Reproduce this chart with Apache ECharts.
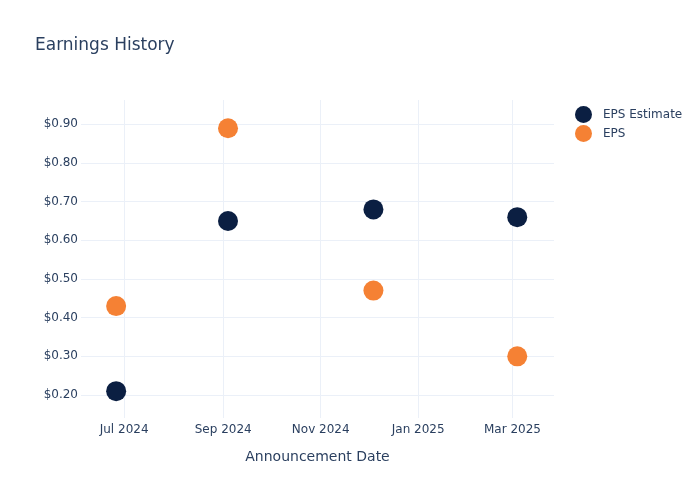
<!DOCTYPE html>
<html>
<head>
<meta charset="utf-8">
<script src="https://cdn.jsdelivr.net/npm/echarts@6/dist/echarts.min.js"></script>
<style>
  html, body { margin: 0; padding: 0; background: #fff; }
  #chart { width: 700px; height: 500px; }
</style>
</head>
<body>
<div id="chart"></div>
<script>
// announcement dates and values
var dates = ['2024-06-26', '2024-09-04', '2024-12-04', '2025-03-04'];
var epsEstimate = [0.21, 0.65, 0.68, 0.66];
var eps = [0.43, 0.89, 0.47, 0.30];

var xMin = '2024-06-04';
var xMax = '2025-03-27';
var yMin = 0.1405;
var yMax = 0.963;

var textColor = '#2a3f5f';
var gridColor = '#ebf0f8';
var fontFamily = '"DejaVu Sans", Verdana, sans-serif';

function pairs(values) {
    return dates.map(function(d, i) { return [d, values[i]]; });
}

var chart = echarts.init(document.getElementById('chart'));

var option = {
    backgroundColor: '#fff',
    textStyle: { fontFamily: fontFamily, color: textColor },
    title: {
        text: 'Earnings History',
        left: 30,
        top: 32,
        textStyle: { fontSize: 17, fontWeight: 'normal', color: textColor, fontFamily: fontFamily }
    },
    legend: {
        orient: 'vertical',
        left: 570,
        top: 101,
        itemWidth: 17,
        itemHeight: 17,
        itemGap: 2,
        icon: 'circle',
        textStyle: { fontSize: 12, color: textColor, fontFamily: fontFamily, padding: [0, 0, 0, 6] },
        data: ['EPS Estimate', 'EPS']
    },
    grid: {
        left: 81,
        right: 146,
        top: 100,
        bottom: 82,
        containLabel: false
    },
    xAxis: {
        type: 'time',
        min: xMin,
        max: xMax,
        minInterval: 61 * 24 * 3600 * 1000,
        maxInterval: 61 * 24 * 3600 * 1000,
        name: 'Announcement Date',
        nameLocation: 'middle',
        nameGap: 32,
        nameTextStyle: { fontSize: 14, color: textColor },
        axisLine: { show: false },
        axisTick: { show: false },
        axisLabel: {
            color: textColor,
            fontSize: 12,
            margin: 6,
            hideOverlap: false,
            showMinLabel: false,
            showMaxLabel: false,
            formatter: function(value) {
                return echarts.time.format(value, '{MMM} {yyyy}', false);
            }
        },
        splitLine: { show: true, showMinLine: false, showMaxLine: false, lineStyle: { color: gridColor, width: 1 } }
    },
    yAxis: {
        type: 'value',
        min: yMin,
        max: yMax,
        splitNumber: 8,
        minInterval: 0.1,
        maxInterval: 0.1,
        axisLine: { show: false },
        axisTick: { show: false },
        axisLabel: {
            color: textColor,
            fontSize: 12,
            margin: 3,
            showMinLabel: false,
            showMaxLabel: false,
            formatter: function(v) { return '$' + v.toFixed(2); }
        },
        splitLine: { show: true, showMinLine: false, showMaxLine: false, lineStyle: { color: gridColor, width: 1 } }
    },
    series: [
        {
            name: 'EPS Estimate',
            type: 'scatter',
            symbolSize: 20,
            itemStyle: { color: '#0b1f42', opacity: 1 },
            data: pairs(epsEstimate)
        },
        {
            name: 'EPS',
            type: 'scatter',
            symbolSize: 20,
            itemStyle: { color: '#f58134', opacity: 1 },
            data: pairs(eps)
        }
    ]
};

chart.setOption(option);
</script>
</body>
</html>
